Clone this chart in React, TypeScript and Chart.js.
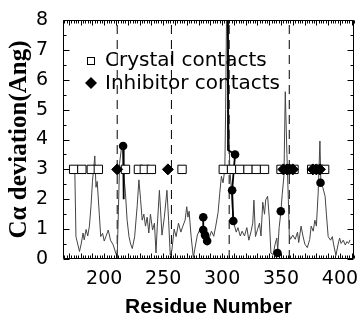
import React, { useEffect, useRef } from 'react';
import { Chart, registerables } from 'chart.js';

Chart.register(...registerables);

const xTicks = [200, 250, 300, 350, 400];
const yTicks = [0, 1, 2, 3, 4, 5, 6, 7, 8];
const xMin = 165;
const xMax = 412;
const yMin = 0;
const yMax = 8;

const legendLabels = ['Crystal contacts', 'Inhibitor contacts'];
const xTitle = 'Residue Number';
const yTitle = 'C\u03B1 deviation(Ang)';

const dashedResidues = [211, 257, 306, 357];

const traceResidues = [
  175, 176, 179, 180.4, 182, 183, 184.6, 186, 187.4, 188.8, 190, 192, 193, 194, 195.8, 197, 198.6, 200,
  201.4, 203.4, 205.3, 207.6, 209.8, 211, 212, 213, 215, 216, 216.8, 218, 219.4, 221, 222.4, 223.8,
  225.8, 228, 229.4, 230.8, 232.2, 233.6, 235, 236.4, 237.8, 239.2, 241, 242.6, 243.9, 245, 246.8, 249,
  251, 253.2, 254.6, 256, 257.4, 259.3, 261, 263, 265, 266.7, 268.6, 270, 271, 272, 273.7, 275.6, 277.6,
  279, 281, 282.5, 284, 285.4, 287.4, 289, 291, 292.9, 294.6, 296.6, 298, 299.4, 300.8, 302.3, 303,
  303.8, 304.6, 305.5, 306.5, 308, 309.2, 312, 313.4, 315.4, 317, 319, 321, 322.7, 324.6, 326, 327,
  328.3, 330, 331.7, 333, 334.5, 336, 337, 338.6, 340, 341.4, 343.3, 345, 346.4, 347.2, 348.4, 349.8,
  351, 352.5, 353.6, 355, 356.2, 357, 358, 360, 362, 364, 365, 367, 368.6, 370.2, 372.3, 374.3, 375.6,
  377.3, 378.7, 380, 381.5, 383, 383.8, 385.4, 387.4, 388.5, 390, 392, 393.5, 394.7, 396.6, 398.3,
  399.7, 401, 402.8, 404.5, 406, 407.3, 408.6,
];
const traceValues = [
  3.0, 0.75, 0.25, 0.5, 0.87, 0.64, 0.99, 0.77, 1.1, 1.8, 2.6, 3.45, 2.4, 2.6, 1.5, 0.75, 0.86, 0.6,
  0.75, 0.97, 0.63, 0.47, 0.19, 0.08, 1.6, 3.2, 3.85, 3.7, 2.73, 2.2, 1.3, 0.75, 0.5, 0.35,
  0.75, 1.8, 2.65, 2.0, 1.3, 1.5, 1.1, 1.4, 0.87, 1.5, 0.97, 1.2, 0.2, 1.1, 2.3, 0.8,
  1.4, 2.3, 1.3, 0.13, 0.3, 1.0, 0.75, 1.2, 0.9, 1.1, 1.3, 1.75, 1.4, 1.6, 0.76, 0.05, 0.5,
  0.8, 0.98, 1.1, 0.93, 0.76, 0.65, 0.7, 0.93, 0.76, 1.1, 1.56, 2.2, 2.77, 2.55, 3.0, 5.0,
  8.3, 8.3, 5.0, 3.0, 2.3, 1.3, 0.9, 1.05, 0.77, 0.93, 0.77, 1.05, 0.63, 0.93, 1.2, 1.97,
  0.75, 0.98, 1.2, 0.77, 1.9, 1.5, 1.98, 2.1, 1.4, 0.2, 0.15, 0.5, 0.7, 0.3, 1.05, 1.55,
  2.16, 2.8, 5.6, 3.5, 2.0, 0.8, 0.66, 0.8, 0.66, 0.9, 0.55, 1.1, 0.77, 0.5, 0.38, 0.65, 1.1,
  0.93, 1.3, 1.1, 2.2, 3.95, 2.55, 2.4, 2.1, 1.5, 0.75, 0.63, 0.75, 0.47, 0.12, 0.47,
  0.7, 0.52, 0.63, 0.47, 0.58, 0.52, 0.64,
];

const crystalResidues = [174, 181, 189, 195, 218, 229, 234, 240, 266, 301, 308, 315, 322, 329, 336, 350, 357, 361, 376, 382, 387];
const crystalLevel = 3;
const inhibitorResidues = [211, 254, 352, 355, 357, 360, 377, 380, 383];
const inhibitorLevel = 3;

const segmentResidues = [216, 216.5, 0, 284, 284, 285.5, 287.3, 0, 305, 305, 311, 308.5, 309.5];
const segmentValues = [3.78, 2.0, null, 1.4, 0.97, 0.8, 0.6, null, 8.3, 3.65, 3.5, 2.3, 1.27];

const dotResidues = [216, 284, 284, 285.5, 287.3, 311, 308.5, 309.5, 349.8, 347, 383.5];
const dotValues = [3.78, 1.4, 0.97, 0.8, 0.6, 3.5, 2.3, 1.27, 1.6, 0.2, 2.55];

const frameTicks = {
  id: 'frameTicks',
  afterDatasetsDraw(chart: any) {
    const { ctx, chartArea, scales } = chart;
    const { left, right, top, bottom } = chartArea;
    const xs = scales.x;
    const ys = scales.y;
    ctx.save();
    ctx.strokeStyle = '#000';
    ctx.lineWidth = 1;
    const L = Math.round(left) + 0.5;
    const R = Math.round(right) - 0.5;
    const T = Math.round(top) + 0.5;
    const B = Math.round(bottom) - 0.5;
    ctx.beginPath();
    ctx.rect(L, T, R - L, B - T);
    ctx.stroke();
    ctx.beginPath();
    for (let v = 166; v <= xMax; v += 2) {
      const px = Math.round(xs.getPixelForValue(v)) + 0.5;
      const len = v % 10 === 0 ? 5 : 3;
      ctx.moveTo(px, B);
      ctx.lineTo(px, B - len);
      ctx.moveTo(px, T);
      ctx.lineTo(px, T + len);
    }
    for (let v = yMin; v <= yMax; v += 0.5) {
      const py = Math.round(ys.getPixelForValue(v)) + 0.5;
      const len = Number.isInteger(v) ? 6 : 3;
      ctx.moveTo(L, py);
      ctx.lineTo(L + len, py);
      ctx.moveTo(R, py);
      ctx.lineTo(R - len, py);
    }
    ctx.stroke();
    ctx.restore();
  },
};

const legendPlugin = {
  id: 'insideLegend',
  afterDatasetsDraw(chart: any) {
    const { ctx } = chart;
    ctx.save();
    ctx.fillStyle = '#fff';
    ctx.strokeStyle = '#000';
    ctx.lineWidth = 1;
    ctx.fillRect(87, 57, 7, 7);
    ctx.strokeRect(87.5, 57.5, 7, 7);
    ctx.fillStyle = '#000';
    ctx.beginPath();
    ctx.moveTo(91, 77);
    ctx.lineTo(97, 83);
    ctx.lineTo(91, 89);
    ctx.lineTo(85, 83);
    ctx.closePath();
    ctx.fill();
    ctx.fillStyle = '#000';
    ctx.font = '20px "DejaVu Sans"';
    ctx.textBaseline = 'middle';
    ctx.textAlign = 'left';
    ctx.fillText(legendLabels[0], 105, 61);
    ctx.fillText(legendLabels[1], 105, 84);
    ctx.restore();
  },
};

export default function App() {
  const ref = useRef<HTMLCanvasElement | null>(null);
  useEffect(() => {
    if (!ref.current) return;
    const pts = (xs: number[], ys: (number | null)[]) => xs.map((x, i) => ({ x, y: ys[i] }));
    const dashed = dashedResidues.map((r) => ({
      data: [{ x: r, y: yMin }, { x: r, y: yMax }],
      borderColor: '#000',
      borderWidth: 1,
      borderDash: [9, 6],
      pointRadius: 0,
      order: 6,
      clip: 0,
    }));
    const chart = new Chart(ref.current, {
      type: 'line',
      data: {
        datasets: [
          {
            label: legendLabels[1],
            data: inhibitorResidues.map((x) => ({ x, y: inhibitorLevel })),
            showLine: false,
            pointStyle: 'rectRot',
            pointRadius: 5.5,
            pointBackgroundColor: '#000',
            pointBorderColor: '#000',
            pointBorderWidth: 1,
            order: 0,
          },
          {
            label: legendLabels[0],
            data: crystalResidues.map((x) => ({ x, y: crystalLevel })),
            showLine: false,
            pointStyle: 'rect',
            pointRadius: 5.9,
            pointBackgroundColor: '#fff',
            pointBorderColor: '#000',
            pointBorderWidth: 1,
            order: 1,
          },
          {
            label: 'dots',
            data: pts(dotResidues, dotValues),
            showLine: false,
            pointStyle: 'circle',
            pointRadius: 4.3,
            pointBackgroundColor: '#000',
            pointBorderColor: '#000',
            pointBorderWidth: 0,
            order: 2,
          },
          {
            label: 'segments',
            data: pts(segmentResidues, segmentValues),
            borderColor: '#000',
            borderWidth: 1.8,
            pointRadius: 0,
            spanGaps: false,
            order: 3,
            clip: 0,
          },
          {
            label: 'trace',
            data: pts(traceResidues, traceValues),
            borderColor: '#444',
            borderWidth: 1,
            pointRadius: 0,
            tension: 0,
            order: 4,
            clip: 0,
          },
          ...dashed,
        ] as any,
      },
      options: {
        responsive: false,
        animation: false,
        events: [],
        layout: { padding: { top: 20, right: 4, left: 0, bottom: 0 } },
        plugins: { legend: { display: false }, tooltip: { enabled: false } },
        scales: {
          x: {
            type: 'linear',
            min: xMin,
            max: xMax,
            afterBuildTicks: (s: any) => {
              s.ticks = xTicks.map((v) => ({ value: v }));
            },
            afterFit: (s: any) => {
              s.height = 61;
              s.paddingLeft = 0;
              s.paddingRight = 0;
              s.paddingTop = 0;
              s.paddingBottom = 0;
            },
            grid: { display: false, drawTicks: false },
            border: { display: false },
            ticks: {
              padding: 9,
              color: '#000',
              autoSkip: false,
              maxRotation: 0,
              font: { family: 'DejaVu Sans', size: 19 },
            },
            title: {
              display: true,
              text: xTitle,
              color: '#000',
              padding: { top: 0, bottom: 0 },
              font: { family: 'Liberation Sans', size: 21, weight: 'bold' },
            },
          },
          y: {
            type: 'linear',
            min: yMin,
            max: yMax,
            afterBuildTicks: (s: any) => {
              s.ticks = yTicks.map((v) => ({ value: v }));
            },
            afterFit: (s: any) => {
              s.width = 63;
              s.paddingLeft = 0;
              s.paddingRight = 0;
              s.paddingTop = 0;
              s.paddingBottom = 0;
            },
            grid: { display: false, drawTicks: false },
            border: { display: false },
            ticks: {
              padding: 15,
              color: '#000',
              autoSkip: false,
              font: { family: 'DejaVu Sans', size: 19 },
            },
            title: {
              display: true,
              text: yTitle,
              color: '#000',
              padding: { top: 5, bottom: 0 },
              font: { family: 'Liberation Serif', size: 25, weight: 'bold' },
            },
          },
        },
      } as any,
      plugins: [frameTicks, legendPlugin],
    });
    return () => chart.destroy();
  }, []);
  return (
    <div style={{ position: 'fixed', left: 0, top: 0, width: 361, height: 320, background: '#fff' }}>
      <canvas ref={ref} width={361} height={320} style={{ width: 361, height: 320, display: 'block' }} />
    </div>
  );
}
